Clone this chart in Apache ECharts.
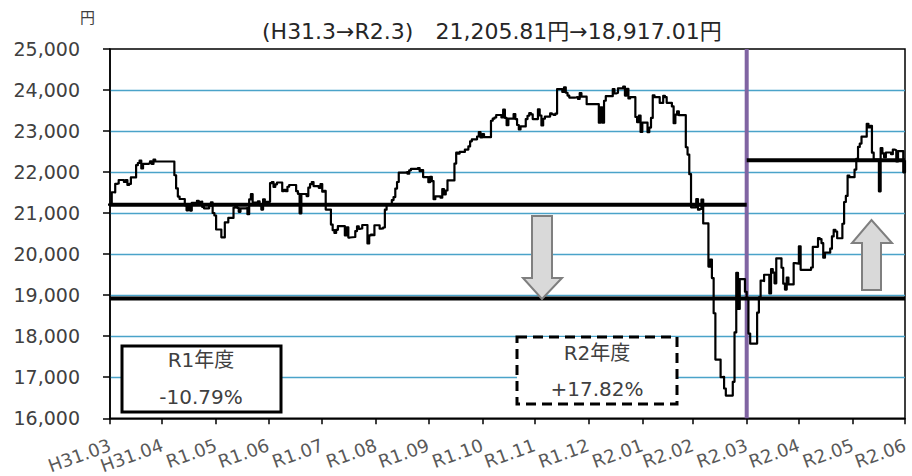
<!DOCTYPE html>
<html><head><meta charset="utf-8">
<script src="https://cdn.jsdelivr.net/npm/echarts@6/dist/echarts.min.js"></script>
<style>html,body{margin:0;padding:0;background:#fff}#c{width:912px;height:476px}</style>
</head><body><div id="c"></div>
<script>
// ---- tick labels (month ends) ----
const tickDates = ['2019-03-31','2019-04-30','2019-05-31','2019-06-30','2019-07-31','2019-08-31','2019-09-30','2019-10-31','2019-11-30','2019-12-31','2020-01-31','2020-02-29','2020-03-31','2020-04-30','2020-05-31','2020-06-30'];
const tickLabels = ['H31.03','H31.04','R1.05','R1.06','R1.07','R1.08','R1.09','R1.10','R1.11','R1.12','R2.01','R2.02','R2.03','R2.04','R2.05','R2.06'];

// ---- daily closes (円) ----
const dates = [
'2019-03-29','2019-04-01','2019-04-02','2019-04-03','2019-04-04','2019-04-05','2019-04-08','2019-04-09','2019-04-10','2019-04-11','2019-04-12','2019-04-15','2019-04-16','2019-04-17','2019-04-18','2019-04-19','2019-04-22','2019-04-23','2019-04-24','2019-04-25','2019-04-26',
'2019-05-07','2019-05-08','2019-05-09','2019-05-10','2019-05-13','2019-05-14','2019-05-15','2019-05-16','2019-05-17','2019-05-20','2019-05-21','2019-05-22','2019-05-23','2019-05-24','2019-05-27','2019-05-28','2019-05-29','2019-05-30','2019-05-31',
'2019-06-03','2019-06-04','2019-06-05','2019-06-06','2019-06-07','2019-06-10','2019-06-11','2019-06-12','2019-06-13','2019-06-14','2019-06-17','2019-06-18','2019-06-19','2019-06-20','2019-06-21','2019-06-24','2019-06-25','2019-06-26','2019-06-27','2019-06-28',
'2019-07-01','2019-07-02','2019-07-03','2019-07-04','2019-07-05','2019-07-08','2019-07-09','2019-07-10','2019-07-11','2019-07-12','2019-07-16','2019-07-17','2019-07-18','2019-07-19','2019-07-22','2019-07-23','2019-07-24','2019-07-25','2019-07-26','2019-07-29','2019-07-30','2019-07-31',
'2019-08-01','2019-08-02','2019-08-05','2019-08-06','2019-08-07','2019-08-08','2019-08-09','2019-08-13','2019-08-14','2019-08-15','2019-08-16','2019-08-19','2019-08-20','2019-08-21','2019-08-22','2019-08-23','2019-08-26','2019-08-27','2019-08-28','2019-08-29','2019-08-30',
'2019-09-02','2019-09-03','2019-09-04','2019-09-05','2019-09-06','2019-09-09','2019-09-10','2019-09-11','2019-09-12','2019-09-13','2019-09-17','2019-09-18','2019-09-19','2019-09-20','2019-09-24','2019-09-25','2019-09-26','2019-09-27','2019-09-30',
'2019-10-01','2019-10-02','2019-10-03','2019-10-04','2019-10-07','2019-10-08','2019-10-09','2019-10-10','2019-10-11','2019-10-15','2019-10-16','2019-10-17','2019-10-18','2019-10-21','2019-10-23','2019-10-24','2019-10-25','2019-10-28','2019-10-29','2019-10-30','2019-10-31',
'2019-11-01','2019-11-05','2019-11-06','2019-11-07','2019-11-08','2019-11-11','2019-11-12','2019-11-13','2019-11-14','2019-11-15','2019-11-18','2019-11-19','2019-11-20','2019-11-21','2019-11-22','2019-11-25','2019-11-26','2019-11-27','2019-11-28','2019-11-29',
'2019-12-02','2019-12-03','2019-12-04','2019-12-05','2019-12-06','2019-12-09','2019-12-10','2019-12-11','2019-12-12','2019-12-13','2019-12-16','2019-12-17','2019-12-18','2019-12-19','2019-12-20','2019-12-23','2019-12-24','2019-12-25','2019-12-26','2019-12-27','2019-12-30',
'2020-01-06','2020-01-07','2020-01-08','2020-01-09','2020-01-10','2020-01-14','2020-01-15','2020-01-16','2020-01-17','2020-01-20','2020-01-21','2020-01-22','2020-01-23','2020-01-24','2020-01-27','2020-01-28','2020-01-29','2020-01-30','2020-01-31',
'2020-02-03','2020-02-04','2020-02-05','2020-02-06','2020-02-07','2020-02-10','2020-02-12','2020-02-13','2020-02-14','2020-02-17','2020-02-18','2020-02-19','2020-02-20','2020-02-21','2020-02-25','2020-02-26','2020-02-27','2020-02-28',
'2020-03-02','2020-03-03','2020-03-04','2020-03-05','2020-03-06','2020-03-09','2020-03-10','2020-03-11','2020-03-12','2020-03-13','2020-03-16','2020-03-17','2020-03-18','2020-03-19','2020-03-23','2020-03-24','2020-03-25','2020-03-26','2020-03-27','2020-03-30','2020-03-31',
'2020-04-01','2020-04-02','2020-04-03','2020-04-06','2020-04-07','2020-04-08','2020-04-09','2020-04-10','2020-04-13','2020-04-14','2020-04-15','2020-04-16','2020-04-17','2020-04-20','2020-04-21','2020-04-22','2020-04-23','2020-04-24','2020-04-27','2020-04-28','2020-04-30',
'2020-05-01','2020-05-07','2020-05-08','2020-05-11','2020-05-12','2020-05-13','2020-05-14','2020-05-15','2020-05-18','2020-05-19','2020-05-20','2020-05-21','2020-05-22','2020-05-25','2020-05-26','2020-05-27','2020-05-28','2020-05-29',
'2020-06-01','2020-06-02','2020-06-03','2020-06-04','2020-06-05','2020-06-08','2020-06-09','2020-06-10','2020-06-11','2020-06-12','2020-06-15','2020-06-16','2020-06-17','2020-06-18','2020-06-19','2020-06-22','2020-06-23','2020-06-24','2020-06-25','2020-06-26','2020-06-29','2020-06-30'
];
const closes = [
21205.81,21509,21505,21713,21724,21807,21761,21802,21687,21711,21870,22169,22221,22277,22090,22200,22217,22259,22200,22307,22258,
21923,21602,21402,21344,21191,21067,21188,21062,21250,21301,21272,21283,21151,21117,21182,21260,21003,20942,20601,
20410,20408,20776,20774,20884,21134,21204,21129,21032,21116,21124,20972,21333,21462,21258,21285,21193,21086,21338,21275,
21729,21754,21638,21702,21746,21534,21565,21533,21643,21685,21535,21469,20995,21466,21416,21620,21709,21756,21658,21616,21709,21521,
21540,21087,20720,20585,20516,20593,20684,20455,20655,20405,20418,20563,20677,20618,20628,20710,20261,20456,20479,20460,20704,
20620,20625,20649,21085,21199,21318,21392,21597,21759,21988,22001,21960,22044,22079,22098,22020,22048,21878,21755,
21885,21778,21341,21410,21375,21587,21456,21551,21798,22207,22472,22451,22492,22548,22625,22750,22799,22867,22974,22843,22927,
22850,23251,23303,23330,23391,23331,23520,23319,23141,23303,23416,23292,23148,23038,23112,23292,23373,23437,23409,23293,
23529,23379,23135,23300,23354,23430,23410,23391,23424,24023,23952,24066,23934,23864,23816,23821,23830,23782,23924,23837,23656,
23204,23575,23204,23739,23850,24025,23916,23933,24041,24083,23864,24031,23795,23827,23343,23215,23379,22977,23205,
22971,23084,23319,23873,23827,23685,23861,23827,23687,23600,23193,23400,23479,23386,22605,22426,21948,21142,
21344,21082,21100,21329,20749,19698,19867,19416,18559,17431,17002,17011,16726,16552,16887,18092,19546,18664,19389,19084,18917,
18065,17818,17820,18576,18950,19353,19345,19498,19043,19638,19550,19290,19897,19669,19280,19137,19429,19262,19783,19771,20193,
19619,19674,20179,20390,20366,20267,19914,20037,20133,20433,20595,20552,20388,20741,21271,21419,21916,21877,
22062,22325,22613,22695,22863,23178,23091,23124,22472,22305,21530,22582,22455,22355,22478,22437,22549,22534,22259,22512,21995,22288
];

// ---- reference levels ----
const fyStartClose = 21205.81;   // H31.3 end
const fyEndClose = 18917.01;     // R2.3 end
const latestClose = 22288.14;    // latest
const axisStart = '2019-03-31', fyEndDate = '2020-03-31', axisEnd = '2020-06-30';
const yMin = 16000, yMax = 25000, yStep = 1000;

function ts(s){ const p = s.split('-'); return Date.UTC(+p[0], +p[1]-1, +p[2]); }
function commas(v, d){ const s = v.toFixed(d); const parts = s.split('.'); parts[0] = parts[0].replace(/\B(?=(\d{3})+(?!\d))/g, ','); return parts.join('.'); }
const tickTs = tickDates.map(ts);
function labelFor(v){ let best = 0, bd = Infinity; tickTs.forEach((t,i)=>{ const d = Math.abs(t - v); if (d < bd){ bd = d; best = i; } }); return tickLabels[best]; }

const r1 = (fyEndClose / fyStartClose - 1) * 100;
const r2 = (latestClose / fyEndClose - 1) * 100;
const r1Text = (r1 >= 0 ? '+' : '') + r1.toFixed(2) + '%';
const r2Text = (r2 >= 0 ? '+' : '') + r2.toFixed(2) + '%';

const FONT = '"DejaVu Sans", "Noto Sans CJK JP", sans-serif';
const chart = echarts.init(document.getElementById('c'), null, {renderer: 'svg'});

const lvl = (pts, w, c, z) => ({ type:'line', data: pts, symbol:'none', silent:true, z: z,
  lineStyle:{color: c, width: w}, animation:false });

chart.setOption({
  animation: false,
  backgroundColor: '#fff',
  title: { text: '(H31.3→R2.3)　' + commas(fyStartClose,2) + '円→' + commas(fyEndClose,2) + '円',
    left: 262, top: 20, padding: 0, textStyle:{ fontFamily: FONT, fontSize: 22, fontWeight: 'normal', color: '#262626' } },
  grid: { left: 110, right: 7, top: 49, bottom: 54, show: true, borderColor: '#000', borderWidth: 1.5 },
  xAxis: { type: 'value', min: ts(axisStart), max: ts(axisEnd),
    axisLine: { show: true, lineStyle: { color: '#000', width: 1.5 } },
    axisTick: { show: true, customValues: tickTs, length: 6, lineStyle: { color: '#000', width: 1.5 } },
    axisLabel: { customValues: tickTs, formatter: (v) => labelFor(v), rotate: 20, margin: 26,
      fontFamily: FONT, fontSize: 18, color: '#595959', hideOverlap: false },
    splitLine: { show: false } },
  yAxis: { type: 'value', min: yMin, max: yMax, interval: yStep,
    axisLine: { show: true, lineStyle: { color: '#000', width: 1.5 } },
    axisTick: { show: true, length: 7, lineStyle: { color: '#000', width: 1.5 } },
    axisLabel: { margin: 30, fontFamily: FONT, fontSize: 19, color: '#404040', formatter: (v) => commas(v,0), padding:[0,0,4,0] },
    splitLine: { show: true, showMinLine: false, showMaxLine: false, lineStyle: { color: '#4aa3c9', width: 1.3 } } },
  series: [
    lvl([[ts(fyEndDate), yMin], [ts(fyEndDate), yMax]], 4, '#8064A2', 2),
    lvl([[ts(axisStart), fyStartClose], [ts(fyEndDate), fyStartClose]], 4, '#000', 3),
    lvl([[ts(axisStart), fyEndClose], [ts(axisEnd), fyEndClose]], 4, '#000', 3),
    lvl([[ts(fyEndDate), latestClose], [ts(axisEnd), latestClose]], 4, '#000', 3),
    { type: 'line', step: 'end', data: dates.map((d,i) => [ts(d), closes[i]]), symbol: 'none', z: 5, clip: true,
      lineStyle: { color: '#000', width: 2.2, join: 'round' } }
  ],
  graphic: [
    { type: 'text', left: 80, top: 10, style: { text: '円', fontSize: 15, fontFamily: FONT, fill: '#404040' } },
    { type: 'polygon', z: 10, shape: { points: [[532,216],[552,216],[552,278],[562,278],[542,299],[523,278],[532,278]] },
      style: { fill: '#d9d9d9', stroke: '#7f7f7f', lineWidth: 2 } },
    { type: 'polygon', z: 10, shape: { points: [[862,290],[881,290],[881,243],[892,243],[871.5,220],[852,243],[862,243]] },
      style: { fill: '#d9d9d9', stroke: '#7f7f7f', lineWidth: 2 } },
    { type: 'rect', z: 10, shape: { x: 122, y: 346, width: 159, height: 66 }, style: { fill: '#fff', stroke: '#000', lineWidth: 3 } },
    { type: 'text', z: 11, x: 201, y: 360, style: { text: 'R1年度', fontSize: 20, fontFamily: FONT, fill: '#404040', align: 'center', verticalAlign: 'middle' } },
    { type: 'text', z: 11, x: 201, y: 397, style: { text: r1Text, fontSize: 20, fontFamily: FONT, fill: '#404040', align: 'center', verticalAlign: 'middle' } },
    { type: 'rect', z: 10, shape: { x: 517, y: 337, width: 160, height: 67 }, style: { fill: '#fff', stroke: '#000', lineWidth: 3, lineDash: [10, 6] } },
    { type: 'text', z: 11, x: 597, y: 353, style: { text: 'R2年度', fontSize: 20, fontFamily: FONT, fill: '#404040', align: 'center', verticalAlign: 'middle' } },
    { type: 'text', z: 11, x: 597, y: 389, style: { text: r2Text, fontSize: 20, fontFamily: FONT, fill: '#404040', align: 'center', verticalAlign: 'middle' } }
  ]
});
</script></body></html>
